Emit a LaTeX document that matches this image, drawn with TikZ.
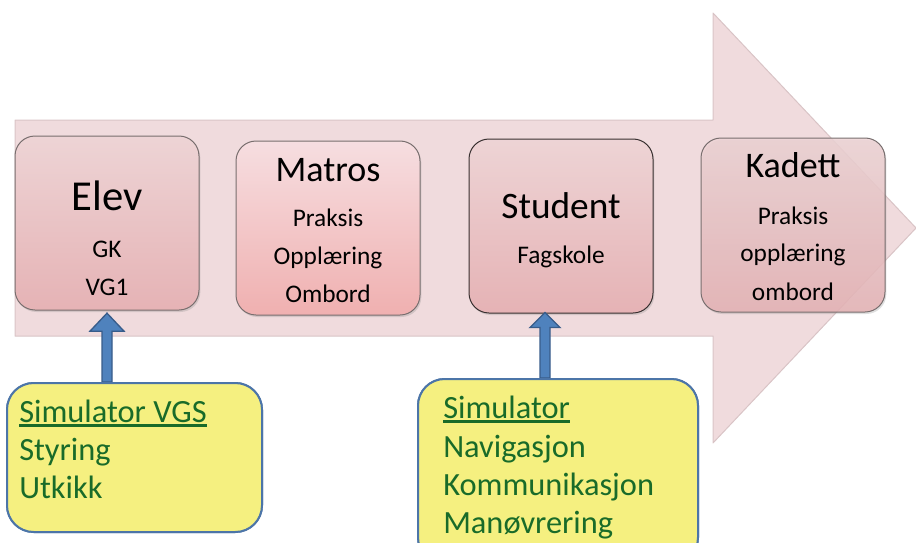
\documentclass[tikz,border=0pt]{standalone}
\usepackage{fontspec}
\setmainfont{Carlito}
\usepackage{tikz}
\usetikzlibrary{calc,shadows}
\definecolor{pilrosa}{rgb}{0.94,0.86,0.865}
\definecolor{pilkant}{rgb}{0.85,0.77,0.775}
\definecolor{boksrand}{rgb}{0.47,0.43,0.43}
\definecolor{boksmork}{rgb}{0.22,0.19,0.19}
\definecolor{topplys}{rgb}{0.93,0.83,0.835}
\definecolor{bunnrosa}{rgb}{0.90,0.70,0.71}
\definecolor{toppmatros}{rgb}{0.965,0.87,0.88}
\definecolor{bunnmatros}{rgb}{0.94,0.69,0.69}
\definecolor{simgul}{rgb}{0.96,0.94,0.50}
\definecolor{simkant}{rgb}{0.30,0.46,0.66}
\definecolor{simgronn}{rgb}{0.10,0.42,0.16}
\definecolor{pilbla}{rgb}{0.31,0.51,0.74}
\definecolor{pilmork}{rgb}{0.22,0.36,0.54}
\tikzset{
  stage/.style={draw=boksrand,line width=0.75pt,rounded corners=15pt,
    minimum width=138pt,minimum height=130.5pt,
    top color=topplys,bottom color=bunnrosa,
    drop shadow={opacity=0.25,shadow xshift=1pt,shadow yshift=-1.5pt}},
  tittel/.style={anchor=base,inner sep=0pt,font=\fontsize{27}{32}\selectfont},
  linje/.style={anchor=base,inner sep=0pt,font=\fontsize{19}{23}\selectfont},
  simboks/.style={draw=simkant,line width=1.5pt,fill=simgul,rounded corners=20pt},
  simtekst/.style={anchor=base west,inner sep=0pt,text=simgronn,font=\fontsize{24.3}{28.5}\selectfont},
  strek/.style={draw=simgronn,line width=2pt,line cap=butt},
  simpil/.style={draw=pilmork,fill=pilbla,line width=1pt,line join=miter}
}

\begin{document}
\begin{tikzpicture}[line cap=round,line join=round,x=0.75pt,y=-0.75pt]
\useasboundingbox (0,0) rectangle (916,542);
\clip (0,0) rectangle (916,542);

% stor pil
\draw[fill=pilrosa,draw=pilkant,line width=0.75pt] (15,120) -- (713,120) -- (713,13) -- (916,228)
  -- (713,443) -- (713,336) -- (15,336) -- cycle;

% trinn
\node[stage] (elev) at (107,223) {};
\node[stage,top color=toppmatros,bottom color=bunnmatros] (matros) at (328,228) {};
\node[stage,draw=boksmork] (student) at (561,226) {};
\node[stage,fill opacity=0.85] (kadett) at (793,225) {};

\node[tittel,font=\fontsize{32}{38}\selectfont] (elevT) at (107,210) {Elev};
\node[linje] (elev1) at (107,257) {GK};
\node[linje] (elev2) at (107,295) {VG1};

\node[tittel] (matrosT) at (328,181) {Matros};
\node[linje] (matros1) at (328,226) {Praksis};
\node[linje] (matros2) at (328,264) {Opplæring};
\node[linje] (matros3) at (328,302) {Ombord};

\node[tittel,font=\fontsize{28}{33}\selectfont] (studentT) at (561,218) {Student};
\node[linje] (student1) at (561,263) {Fagskole};

\node[tittel] (kadettT) at (793,177) {Kadett};
\node[linje] (kadett1) at (793,224) {Praksis};
\node[linje] (kadett2) at (793,261) {opplæring};
\node[linje] (kadett3) at (793,300) {ombord};

% simulator
\node[simboks,minimum width=191.25pt,minimum height=111.75pt] (sim1) at (134.5,457.5) {};
\node[simboks,minimum width=210pt,minimum height=138.75pt] (sim2) at (558,471.5) {};

% blaa piler
\coordinate (p1) at ([yshift=-2pt]elev.south);
\draw[simpil] (p1) -- ++(17,18) -- ++(-12,0) |- ($(p1 |- sim1.north)+(-5,0)$)
  |- ($(p1)+(-17,18)$) -- cycle;
\coordinate (p2) at ([xshift=-12pt,yshift=0.75pt]student.south);
\draw[simpil] (p2) -- ++(15,15) -- ++(-10,0) |- ($(p2 |- sim2.north)+(-5,0)$)
  |- ($(p2)+(-15,15)$) -- cycle;
\node[simboks,minimum width=191.25pt,minimum height=111.75pt] at (sim1) {};
\node[simboks,minimum width=210pt,minimum height=138.75pt] at (sim2) {};

\node[simtekst] (sim1T) at (19,422) {Simulator VGS};
\draw[strek] ([yshift=-2.5pt]sim1T.base west) -- ([yshift=-2.5pt]sim1T.base east);
\node[simtekst] (sim1a) at (19,460) {Styring};
\node[simtekst] (sim1b) at (19,498) {Utkikk};

\node[simtekst] (sim2T) at (443,418) {Simulator};
\draw[strek] ([yshift=-2.5pt]sim2T.base west) -- ([yshift=-2.5pt]sim2T.base east);
\node[simtekst] (sim2a) at (443,457) {Navigasjon};
\node[simtekst] (sim2b) at (443,495) {Kommunikasjon};
\node[simtekst] (sim2c) at (443,533) {Manøvrering};

\end{tikzpicture}
\end{document}
